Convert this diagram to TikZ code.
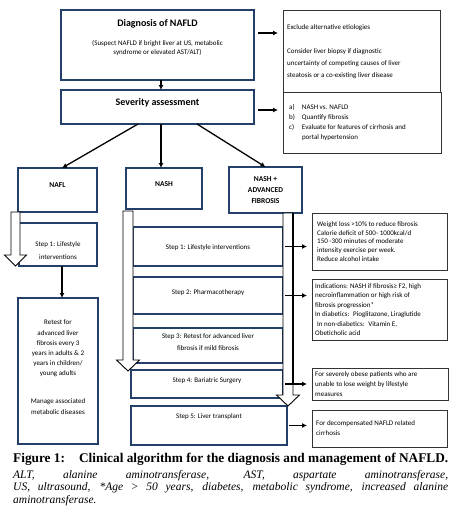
\documentclass[tikz,border=0pt]{standalone}
\usepackage{fontspec}
\setmainfont{Carlito}
\newfontfamily\capfont{Liberation Serif}
\usetikzlibrary{arrows.meta,calc}
\definecolor{navy}{HTML}{22406A}
\begin{document}
\begin{tikzpicture}[x=1pt, y=-1pt, >={Latex[length=5pt,width=5pt]},
  mainbox/.style={draw=navy, line width=1.1pt, fill=white, inner sep=0, outer sep=0},
  sidebox/.style={draw=black!80, line width=0.8pt, fill=white, inner sep=0, outer sep=0},
  ttl/.style={font=\bfseries\fontsize{10}{12}\selectfont, inner sep=0},
  lbl/.style={font=\bfseries\fontsize{7.5}{11}\selectfont, align=center, inner sep=0},
  txt/.style={font=\fontsize{7}{10.2}\selectfont, align=center, inner sep=0},
  side/.style={font=\fontsize{7}{8.7}\selectfont, align=left, anchor=west, inner sep=0},
  arr/.style={->, line width=1.3pt},
  hollow/.style={draw=black, line width=0.9pt, fill=white}]

\useasboundingbox[fill=white] (0,0) rectangle (450,512);

% boxes of the flow chart
\foreach \nm/\l/\t/\r/\b in {diag/61/10/254/80, sev/61/90/254/124, nafl/18/168/97/212,
    nash/126/168/202/209, nashaf/229/167/302/213, lstep/19/223/97/266, retest/18/298/98/444,
    stepa/133/227/283/266, stepb/133/277/283/314, stepc/133/328/283/363,
    stepd/131/370/283/398, stepe/131/406/287/445}
  \node[mainbox, anchor=north west, minimum width={(\r-\l)*1pt}, minimum height={(\b-\t)*1pt}] (\nm) at (\l,\t) {};

% boxes on the right
\foreach \nm/\l/\t/\r/\b in {excl/283/10/440/92, crit/283/92/441/153, wloss/312/213/447/270,
    indic/312/279/447/340, obese/312/368/448/400, decomp/312/410/447/447}
  \node[sidebox, anchor=north west, minimum width={(\r-\l)*1pt}, minimum height={(\b-\t)*1pt}] (\nm) at (\l,\t) {};

% texts
\node[ttl] (diagt) at (157.5,24) {Diagnosis of NAFLD};
\node[txt, font=\fontsize{7}{9}\selectfont] (diags) at (157.5,48.5) {(Suspect NAFLD if bright liver at US, metabolic\\syndrome or elevated AST/ALT)};
\node[side] (excla) at (287,28) {Exclude alternative etiologies};
\node[side, font=\fontsize{7}{12}\selectfont] (exclb) at (287,64) {Consider liver biopsy if diagnostic\\uncertainty of competing causes of liver\\steatosis or a co-existing liver disease};
\node[ttl] (sevt) at (157.5,103) {Severity assessment};
\node[side, anchor=north west, font=\fontsize{7}{10}\selectfont] (critt) at (289,102.5) {%
  \begin{tabular}{@{}l@{\hspace{7pt}}l@{}}
  a) & NASH vs. NAFLD\\
  b) & Quantify fibrosis\\
  c) & Evaluate for features of cirrhosis and\\
     & portal hypertension
  \end{tabular}};

\node[lbl] (naflt) at (57.5,185) {NAFL};
\node[lbl] (nasht) at (164,184) {NASH};
\node[lbl] (nashaft) at (265.5,190) {NASH +\\ADVANCED\\FIBROSIS};
\node[txt, font=\fontsize{7}{12.5}\selectfont] (lstept) at (58,250.5) {Step 1: Lifestyle\\interventions};
\node[txt] (retesta) at (58,348.5) {Retest for\\advanced liver\\fibrosis every 3\\years in adults \& 2\\years in children/\\young adults};
\node[txt] (retestb) at (58,406.5) {Manage associated\\metabolic diseases};

\node[txt] (stepat) at (208,248) {Step 1: Lifestyle interventions};
\node[txt] (stepbt) at (208,293) {Step 2: Pharmacotherapy};
\node[txt, font=\fontsize{7}{12}\selectfont] (stepct) at (208,342) {Step 3: Retest for advanced liver\\fibrosis if mild fibrosis};
\node[txt] (stepdt) at (207,381) {Step 4: Bariatric Surgery};
\node[txt] (stepet) at (209,417) {Step 5: Liver transplant};

\node[side] (wlosst) at (317,241.5) {Weight loss >10\% to reduce fibrosis\\Calorie deficit of 500- 1000kcal/d\\150 -300 minutes of moderate\\intensity exercise per week.\\Reduce alcohol intake};
\node[side, font=\fontsize{7}{9.5}\selectfont] (indict) at (315,309.5) {Indications: NASH if fibrosis≥ F2, high\\necroinflammation or high risk of\\fibrosis progression*\\In diabetics:~ Pioglitazone, Liraglutide\\\hspace{2pt}In non-diabetics:~ Vitamin E,\\Obeticholic acid};
\node[side, font=\fontsize{7}{10}\selectfont] (obeset) at (315,384) {For severely obese patients who are\\unable to lose weight by lifestyle\\measures};
\node[side, font=\fontsize{7}{10}\selectfont] (decompt) at (316,428.5) {For decompensated NAFLD related\\cirrhosis};

% connectors
\coordinate (dx) at ($(diag.east)+(4,-12)$);
\draw[arr, shorten >=5pt] (dx) -- (dx -| excl.west);
\coordinate (sx) at ($(sev.east)+(4,3)$);
\draw[arr, shorten >=5pt] (sx) -- (sx -| crit.west);
\draw[arr] ([xshift=3.5pt]diag.south) -- ([xshift=3.5pt]sev.north);
\draw[arr] ([xshift=-19.5pt]sev.south) -- ([xshift=4.5pt]nafl.north);
\draw[arr] ([xshift=3.5pt]sev.south) -- ([xshift=-3pt]nash.north);
\draw[arr] ([xshift=39.5pt]sev.south) -- (nashaf.north);
\draw[arr] ([xshift=4pt]lstep.south) -- ([xshift=4pt]retest.north);

% hollow arrows
\foreach \xl/\xr/\yt/\yh in {11/20/212/255, 123/133/211/360, 283/293/213/395}
  \draw[hollow] (\xl,\yt) -- (\xl,\yh) -- (\xl-6.5,\yh) -- ({(\xl+\xr)/2},\yh+11)
    -- (\xr+6.5,\yh) -- (\xr,\yh) -- (\xr,\yt) -- cycle;
\draw[line width=1.3pt] (293,213) -- (293,385);
\foreach \s/\t in {stepa/wloss, stepb/indic, stepd/obese, stepe/decomp}
  \draw[arr, shorten <=2pt, shorten >=5pt] (\s.east) -- (\s.east -| \t.west);

% caption
\node[anchor=west, inner sep=0, font=\capfont\bfseries\fontsize{13.3}{15}\selectfont] (capt) at (13,459) {\hbox to 435pt{Figure 1:\hfill Clinical algorithm for the diagnosis and management of NAFLD.}};
\node[anchor=north west, inner sep=0, text width=435pt, align=justify, font=\capfont\itshape\fontsize{11.5}{12.5}\selectfont] (capn) at (13,470) {ALT, alanine aminotransferase, AST, aspartate aminotransferase,\linebreak US, ultrasound, *Age > 50 years, diabetes, metabolic syndrome, increased alanine\linebreak aminotransferase.};
\end{tikzpicture}
\end{document}
